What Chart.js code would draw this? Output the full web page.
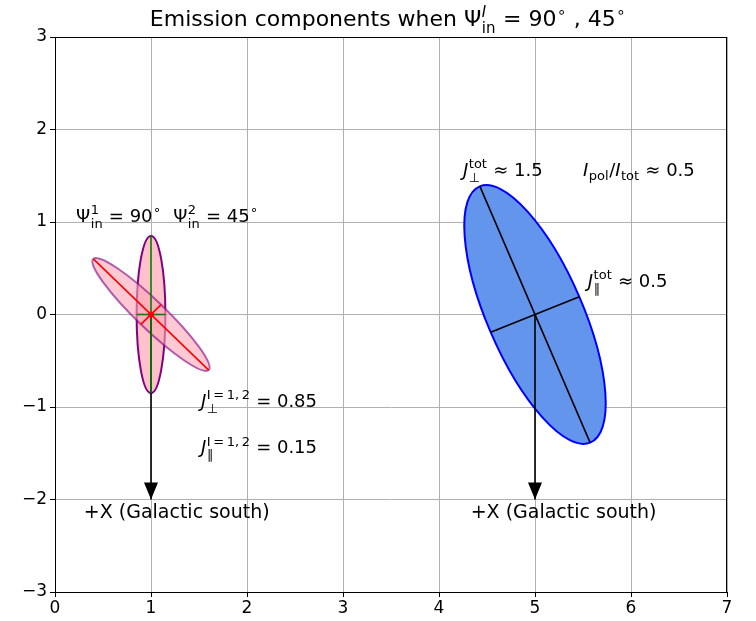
<!DOCTYPE html>
<html>
<head>
<meta charset="utf-8">
<script src="https://cdn.jsdelivr.net/npm/chart.js@4.4.1/dist/chart.umd.min.js"></script>
<style>
  body { margin: 0; background: #fff; }
  #wrap { width: 756px; height: 621px; }
</style>
</head>
<body>
<div id="wrap"><canvas id="emissionChart" width="756" height="621"></canvas></div>
<script>
// axis ticks
const xTicks = [0, 1, 2, 3, 4, 5, 6, 7];
const xTickLabels = ["0", "1", "2", "3", "4", "5", "6", "7"];
const yTicks = [-3, -2, -1, 0, 1, 2, 3];
const yTickLabels = ["\u22123", "\u22122", "\u22121", "0", "1", "2", "3"];

// ellipses: I=1 (Psi=90), I=2 (Psi=45), total
const ellipseCenterX = [1, 1, 5];
const ellipseCenterY = [0, 0, 0];
const ellipseMajor = [0.85, 0.85, 1.5];
const ellipseMinor = [0.15, 0.15, 0.5];
const ellipseAngle = [90, 135, 112.5]; // direction of major axis, degrees (data space)

// arrows pointing to +X
const arrowX = [1, 5];
const arrowFromY = [0, 0];
const arrowToY = [-2, -2];

const palette = {
  ellipseFill: ["rgba(255, 182, 193, 0.85)", "rgba(255, 165, 182, 0.6)", "#6495ed"],
  ellipseEdge: ["#800080", "rgba(128, 0, 128, 0.6)", "#0000ff"],
  axisLine: ["#008000", "#ff0000", "#000000"],
  grid: "#b0b0b0",
};
const FONT = '"DejaVu Sans", sans-serif';

function axisEnd(i, which, sign) {
  const len = which === "major" ? ellipseMajor[i] : ellipseMinor[i];
  const ang = ((ellipseAngle[i] + (which === "major" ? 0 : 90)) * Math.PI) / 180;
  return { x: ellipseCenterX[i] + sign * len * Math.cos(ang), y: ellipseCenterY[i] + sign * len * Math.sin(ang) };
}

const datasets = [];
ellipseCenterX.forEach((_, i) => {
  ["major", "minor"].forEach((which) => {
    datasets.push({
      data: [axisEnd(i, which, -1), axisEnd(i, which, 1)],
      showLine: true,
      borderColor: palette.axisLine[i],
      borderWidth: 1.6,
      pointRadius: 0,
      order: i === 1 ? 1 : 2,
    });
  });
});
arrowX.forEach((x, i) => {
  datasets.push({
    data: [{ x, y: arrowFromY[i] }, { x, y: arrowToY[i] }],
    showLine: true,
    borderColor: "#000",
    borderWidth: 1.6,
    pointRadius: 0,
    order: 3,
  });
});
datasets.push({
  data: [{ x: ellipseCenterX[1], y: ellipseCenterY[1] }],
  pointRadius: 3,
  backgroundColor: "#ff0000",
  borderWidth: 0,
  order: 0,
});

// math-ish label pieces: base text, optional stacked sup/sub
const TS = "\u2009";
const labels = [
  { x: 0.22, y: 1.0, size: 18, parts: [{ t: "\u03a8", sup: "1", sub: "in" }, { t: " = 90", sup: "\u2218" }, { t: "  \u03a8", sup: "2", sub: "in" }, { t: " = 45", sup: "\u2218" }] },
  { x: 1.52, y: -1.0, size: 18, parts: [{ t: "J", it: true, sup: `I${TS}=${TS}1,${TS}2`, sub: "\u22a5" }, { t: " = 0.85" }] },
  { x: 1.52, y: -1.5, size: 18, parts: [{ t: "J", it: true, sup: `I${TS}=${TS}1,${TS}2`, sub: "\u2225" }, { t: " = 0.15" }] },
  { x: 4.25, y: 1.5, size: 18, parts: [{ t: "J", it: true, sup: "tot", sub: "\u22a5" }, { t: " \u2248 1.5" }] },
  { x: 5.5, y: 1.5, size: 18, parts: [{ t: "I", it: true, sub: "pol" }, { t: "/" }, { t: "I", it: true, sub: "tot" }, { t: " \u2248 0.5" }] },
  { x: 5.55, y: 0.3, size: 18, parts: [{ t: "J", it: true, sup: "tot", sub: "\u2225" }, { t: " \u2248 0.5" }] },
  { x: 0.3, y: -2.2, size: 19, parts: [{ t: "+X (Galactic south)" }] },
  { x: 4.33, y: -2.2, size: 19, parts: [{ t: "+X (Galactic south)" }] },
];
const titleParts = [{ t: "Emission components when \u03a8", sup: "I", supIt: true, sub: "in" }, { t: " = 90", sup: "\u2218" }, { t: " , 45", sup: "\u2218" }];

function drawMath(ctx, x, y, parts, fs, dry) {
  let cx = x;
  for (const p of parts) {
    ctx.font = `${p.it ? "italic " : ""}${fs}px ${FONT}`;
    if (!dry) ctx.fillText(p.t, cx, y);
    cx += ctx.measureText(p.t).width;
    if (p.sup || p.sub) {
      const s = Math.round(fs * 0.7);
      let w = 0;
      if (p.sup) {
        ctx.font = `${p.supIt ? "italic " : ""}${s}px ${FONT}`;
        if (!dry) ctx.fillText(p.sup, cx + 0.5, y - fs * 0.42);
        w = Math.max(w, ctx.measureText(p.sup).width);
      }
      if (p.sub) {
        ctx.font = `${s}px ${FONT}`;
        if (!dry) ctx.fillText(p.sub, cx + 0.5, y + fs * (p.sup ? 0.32 : 0.24));
        w = Math.max(w, ctx.measureText(p.sub).width);
      }
      cx += w + 1;
    }
  }
  return cx - x;
}

const shapesPlugin = {
  id: "shapes",
  beforeDatasetsDraw(chart) {
    const { ctx, chartArea } = chart;
    const xs = chart.scales.x;
    const ys = chart.scales.y;
    ctx.save();
    ctx.beginPath();
    ctx.rect(chartArea.left, chartArea.top, chartArea.right - chartArea.left, chartArea.bottom - chartArea.top);
    ctx.clip();
    ellipseCenterX.forEach((cxv, i) => {
      const px = xs.getPixelForValue(cxv);
      const py = ys.getPixelForValue(ellipseCenterY[i]);
      const a = axisEnd(i, "major", 1);
      const b = axisEnd(i, "minor", 1);
      const ux = xs.getPixelForValue(a.x) - px, uy = ys.getPixelForValue(a.y) - py;
      const vx = xs.getPixelForValue(b.x) - px, vy = ys.getPixelForValue(b.y) - py;
      ctx.save();
      ctx.transform(ux, uy, vx, vy, px, py);
      ctx.beginPath();
      ctx.arc(0, 0, 1, 0, Math.PI * 2);
      ctx.restore();
      ctx.fillStyle = palette.ellipseFill[i];
      ctx.fill();
      ctx.lineWidth = 2;
      ctx.strokeStyle = palette.ellipseEdge[i];
      ctx.stroke();
    });
    ctx.restore();
  },
  afterDatasetsDraw(chart) {
    const { ctx, chartArea } = chart;
    const xs = chart.scales.x;
    const ys = chart.scales.y;
    ctx.save();
    // arrow heads
    arrowX.forEach((x, i) => {
      const px = xs.getPixelForValue(x);
      const tip = ys.getPixelForValue(arrowToY[i]);
      ctx.beginPath();
      ctx.moveTo(px, tip);
      ctx.lineTo(px - 7, tip - 17);
      ctx.lineTo(px + 7, tip - 17);
      ctx.closePath();
      ctx.fillStyle = "#000";
      ctx.fill();
    });
    // annotations
    ctx.fillStyle = "#000";
    ctx.textBaseline = "alphabetic";
    ctx.textAlign = "left";
    labels.forEach((l) => {
      drawMath(ctx, xs.getPixelForValue(l.x), ys.getPixelForValue(l.y), l.parts, l.size);
    });
    // frame
    ctx.strokeStyle = "#000";
    ctx.lineWidth = 1;
    ctx.strokeRect(chartArea.left + 0.5, chartArea.top + 0.5, chartArea.right - chartArea.left - 1, chartArea.bottom - chartArea.top);
    // title
    const w = drawMath(ctx, 0, 0, titleParts, 22, true);
    const mid = (chartArea.left + chartArea.right) / 2;
    drawMath(ctx, mid - w / 2 - 3, 26, titleParts, 22);
    ctx.restore();
  },
};

new Chart(document.getElementById("emissionChart"), {
  type: "scatter",
  data: { datasets },
  options: {
    responsive: false,
    animation: false,
    layout: { padding: { top: 37, right: 29, left: 0, bottom: 0 } },
    plugins: { legend: { display: false }, tooltip: { enabled: false }, title: { display: false } },
    scales: {
      x: {
        type: "linear",
        min: 0,
        max: 7,
        afterBuildTicks: (s) => { s.ticks = xTicks.map((v) => ({ value: v })); },
        afterFit: (s) => { s.height = 29; },
        ticks: { color: "#000", font: { family: "DejaVu Sans", size: 17 }, padding: 1, callback: (v) => xTickLabels[xTicks.indexOf(v)] },
        grid: { color: palette.grid, lineWidth: 1, tickColor: "#000", tickLength: 5 },
        border: { color: "#000", width: 1 },
      },
      y: {
        type: "linear",
        min: -3,
        max: 3,
        afterBuildTicks: (s) => { s.ticks = yTicks.map((v) => ({ value: v })); },
        afterFit: (s) => { s.width = 55; },
        ticks: { color: "#000", font: { family: "DejaVu Sans", size: 17 }, padding: 3, callback: (v) => yTickLabels[yTicks.indexOf(v)] },
        grid: { color: palette.grid, lineWidth: 1, tickColor: "#000", tickLength: 5 },
        border: { color: "#000", width: 1 },
      },
    },
  },
  plugins: [shapesPlugin],
});
</script>
</body>
</html>
